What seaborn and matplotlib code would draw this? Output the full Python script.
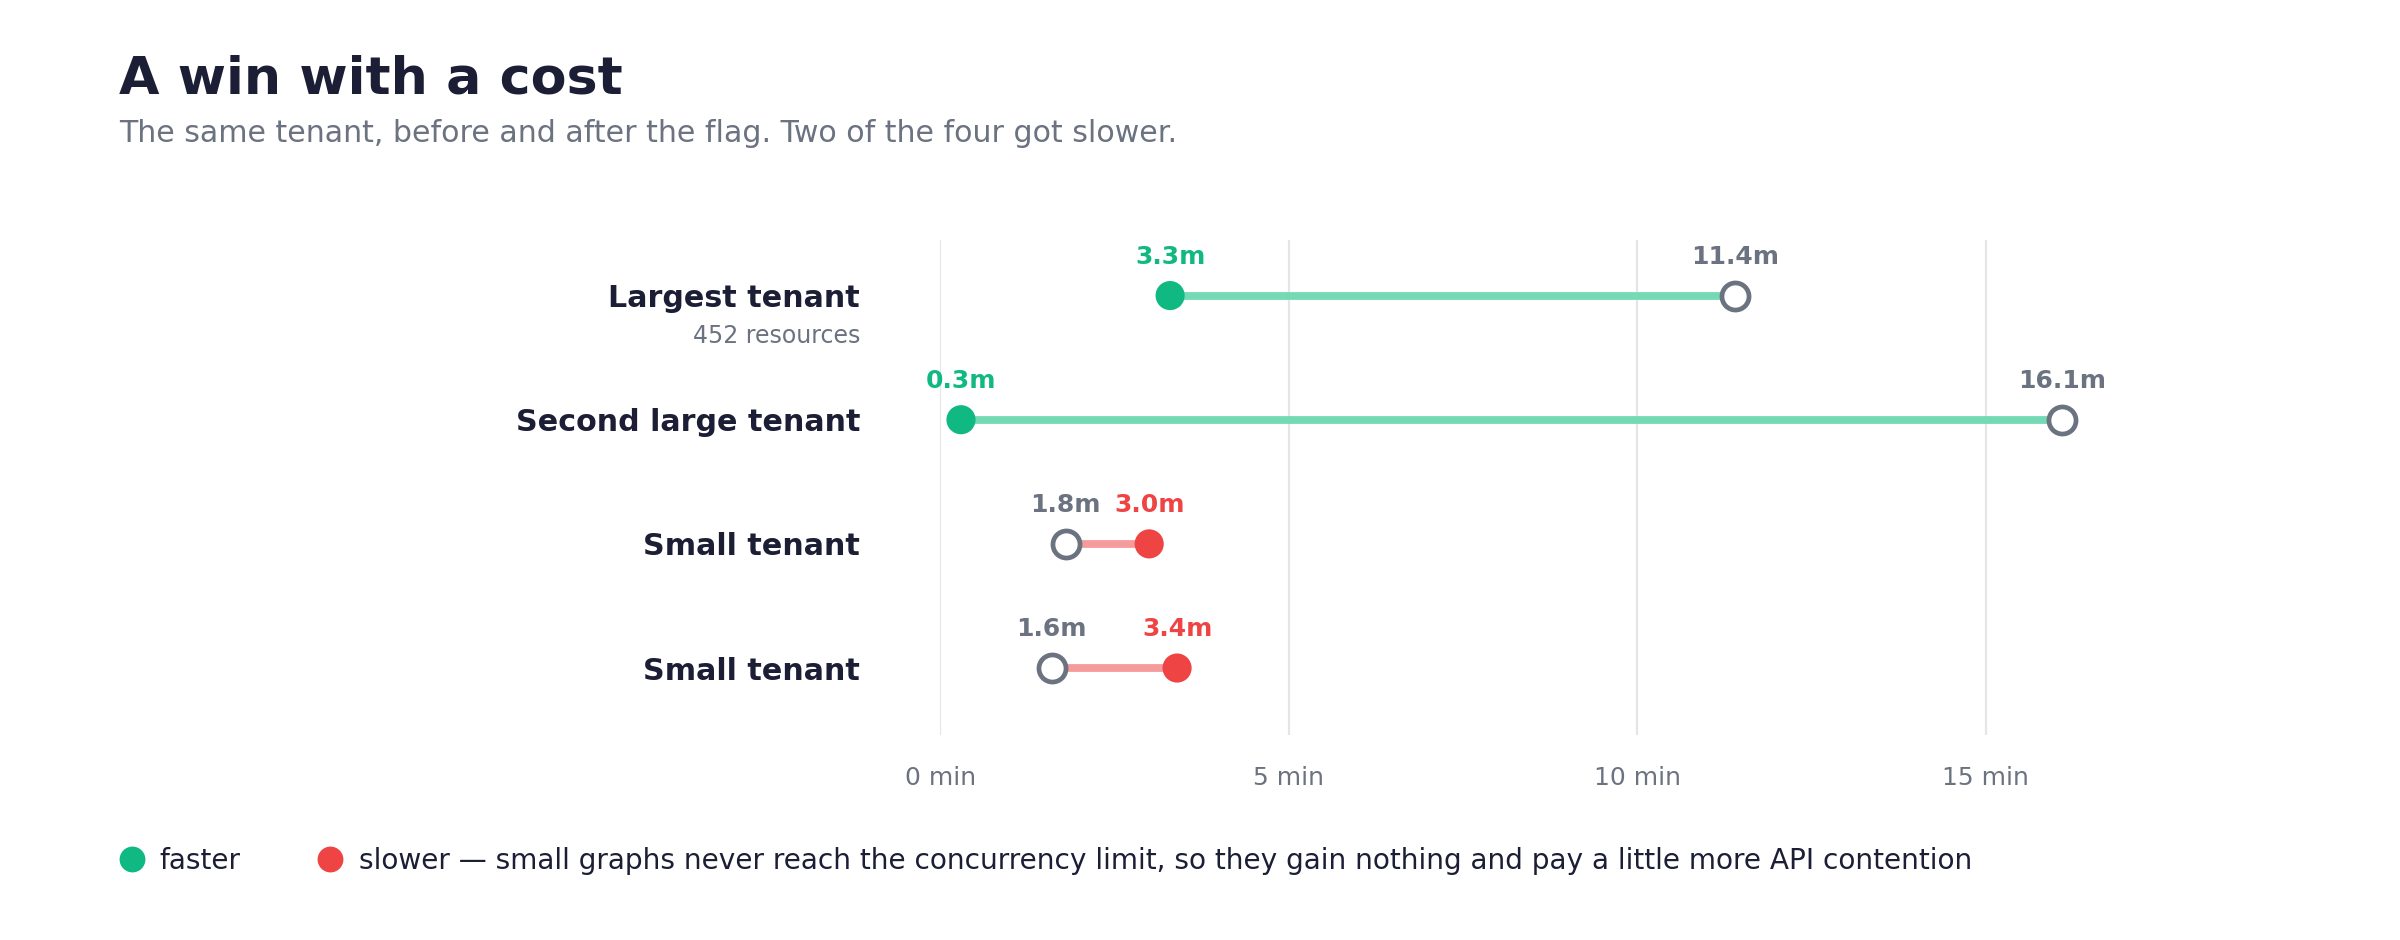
import numpy as np
import pandas as pd
import matplotlib
matplotlib.use('Agg')
import matplotlib.pyplot as plt
import matplotlib.transforms as mtransforms
from matplotlib.lines import Line2D
import seaborn as sns

# data
tenants = ['Largest tenant', 'Second large tenant', 'Small tenant', 'Small tenant']
notes = ['452 resources', '', '', '']
before_min = [11.4, 16.1, 1.8, 1.6]
after_min = [3.3, 0.3, 3.0, 3.4]
x_ticks = [0, 5, 10, 15]

GREEN = '#10b981'
GREEN_LINE = '#74d9b5'
RED = '#ef4444'
RED_LINE = '#f59b9b'
GRAY = '#6b7280'
INK = '#1b1e35'
GRID = '#e3e5e9'

sns.set_theme(style='white')
plt.rcParams['font.family'] = ['DejaVu Sans']

df = pd.DataFrame({
    'row': np.arange(len(tenants)),
    'tenant': tenants,
    'before': before_min,
    'after': after_min,
})
df['faster'] = df['after'] < df['before']

fig = plt.figure(figsize=(12, 4.7), dpi=200)
ax = fig.add_axes([0.3917, 0.218, 0.5228, 0.527])

for x in x_ticks:
    ax.axvline(x, color=GRID, lw=0.8, zorder=0)

# connecting lines
for _, r in df.iterrows():
    ax.plot([r['before'], r['after']], [r['row'], r['row']],
            color=GREEN_LINE if r['faster'] else RED_LINE,
            lw=2.8, solid_capstyle='butt', zorder=1)

# before: hollow gray dots
sns.scatterplot(data=df, x='before', y='row', ax=ax, s=95, marker='o',
                facecolor='white', edgecolor=GRAY, linewidth=1.7, zorder=3, legend=False)
# after: filled dots coloured by direction
sns.scatterplot(data=df, x='after', y='row', hue='faster', ax=ax, s=110,
                palette={True: GREEN, False: RED}, linewidth=0, zorder=3, legend=False)

for _, r in df.iterrows():
    ax.annotate(f"{r['before']:.1f}m", (r['before'], r['row']), xytext=(0, 14),
                textcoords='offset points', ha='center', va='center',
                fontsize=9, fontweight='bold', color=GRAY)
    ax.annotate(f"{r['after']:.1f}m", (r['after'], r['row']), xytext=(0, 14),
                textcoords='offset points', ha='center', va='center',
                fontsize=9, fontweight='bold', color=GREEN if r['faster'] else RED)

ax.set_xlim(0, 18)
ax.set_ylim(len(tenants) - 0.46, -0.45)
ax.set_xticks(x_ticks)
ax.set_xticklabels([f'{t} min' for t in x_ticks])
ax.set_yticks(df['row'])
ax.set_yticklabels(tenants)
ax.tick_params(axis='x', length=0, pad=11, labelsize=9, labelcolor=GRAY)
ax.tick_params(axis='y', length=0, pad=28.8, labelsize=10.85, labelcolor=INK)
for lab in ax.get_yticklabels():
    lab.set_fontweight('bold')
ax.set_xlabel('')
ax.set_ylabel('')
sns.despine(ax=ax, left=True, bottom=True)

trans = mtransforms.blended_transform_factory(ax.transAxes, ax.transData)
for i, note in enumerate(notes):
    if note:
        ax.annotate(note, (0, i), xycoords=trans, xytext=(-28.8, -14.5),
                    textcoords='offset points', ha='right', va='center',
                    fontsize=8.5, color=GRAY)

fig.text(0.0496, 0.901, 'A win with a cost', fontsize=18.8, fontweight='bold',
         color=INK, va='baseline', ha='left')
fig.text(0.0496, 0.849, 'The same tenant, before and after the flag. Two of the four got slower.',
         fontsize=10.8, color=GRAY, va='baseline', ha='left')

handles = [
    Line2D([], [], marker='o', ls='', markersize=9.3, markerfacecolor=GREEN, markeredgewidth=0),
    Line2D([], [], marker='o', ls='', markersize=9.3, markerfacecolor=RED, markeredgewidth=0),
]
labels = ['faster',
          'slower \u2014 small graphs never reach the concurrency limit, so they gain nothing '
          'and pay a little more API contention']
fig.legend(handles, labels, loc='center left', bbox_to_anchor=(0.049, 0.084), ncol=2,
           frameon=False, fontsize=10.1, labelcolor=INK, handlelength=1.0,
           handletextpad=0.5, columnspacing=2.7, borderpad=0, borderaxespad=0)

fig.savefig('out.png', dpi=200, facecolor='white')
